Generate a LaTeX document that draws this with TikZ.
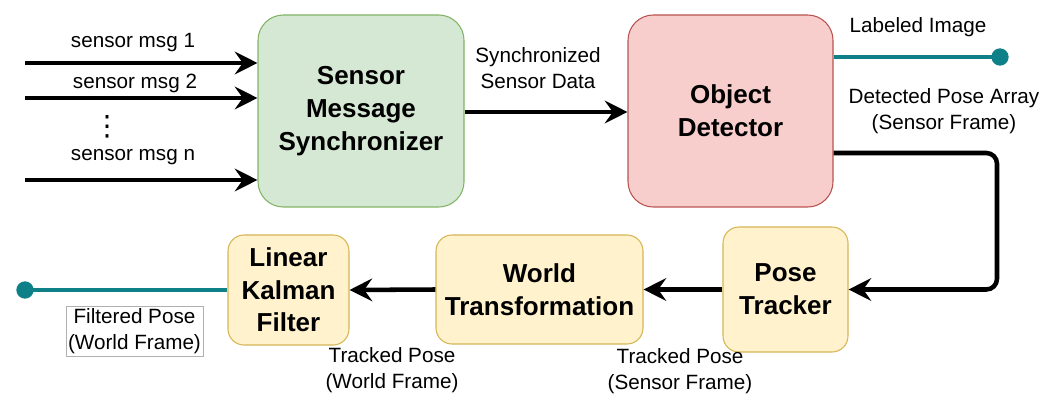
\documentclass[tikz,border=0pt]{standalone}
\usepackage{fontspec}
\setmainfont{Liberation Sans}
\newfontfamily\symbolfont{DejaVu Sans}
\usetikzlibrary{arrows.meta,positioning}

\definecolor{greenfill}{HTML}{D5E8D4}
\definecolor{greenline}{HTML}{82B366}
\definecolor{redfill}{HTML}{F8CECC}
\definecolor{redline}{HTML}{B85450}
\definecolor{yellowfill}{HTML}{FFF2CC}
\definecolor{yellowline}{HTML}{D6B656}
\definecolor{tealline}{HTML}{0E8088}
\definecolor{labelframe}{HTML}{B0B0B0}

\tikzset{
  block/.style={rounded corners=#1, inner sep=0pt, align=center,
    font=\fontsize{19.5}{24.5}\selectfont\bfseries, line width=0.8pt},
  greenbox/.style={block=19pt, fill=greenfill, draw=greenline},
  redbox/.style={block=19pt, fill=redfill, draw=redline},
  yellowbox/.style={block=12pt, fill=yellowfill, draw=yellowline},
  lbl/.style={align=center, inner sep=0pt, font=\fontsize{15.5}{20}\selectfont},
  flow/.style={line width=3.4pt, -{Stealth[length=17pt, width=17pt, inset=6pt]}},
  tealwire/.style={line width=3pt, draw=tealline},
  enddot/.style={circle, fill=tealline, inner sep=0pt, minimum size=13pt}
}

\begin{document}
\begin{tikzpicture}[x=0.75pt, y=-0.75pt]
\useasboundingbox (0,0) rectangle (1059,395);

% processing blocks
\node[greenbox, minimum width=154.5pt, minimum height=144pt] (sync) at (361,111)
  {Sensor\\Message\\Synchronizer};
\node[redbox, minimum width=153.75pt, minimum height=144pt] (det) at (730.5,111)
  {Object\\Detector};
\node[yellowbox, minimum width=93.75pt, minimum height=93.75pt] (track) at (785.5,289.5)
  {Pose\\Tracker};
\node[yellowbox, minimum width=155.25pt, minimum height=81.75pt] (world) at (539.5,289.5)
  {World\\Transformation};
\node[yellowbox, minimum width=90.75pt, minimum height=82.5pt] (kalman) at (288.5,290)
  {Linear\\Kalman\\Filter};

% sensor inputs
\coordinate (in1) at (25,63);
\coordinate (in2) at (25,98);
\coordinate (inn) at (25,180);
\draw[flow] (in1) -- (in1 -| sync.west);
\draw[flow] (in2) -- (in2 -| sync.west);
\draw[flow] (inn) -- (inn -| sync.west);
\node[lbl] (l1) at (133,43) {sensor msg 1};
\node[lbl] (l2) at (135,83) {sensor msg 2};
\node[lbl, font=\symbolfont\fontsize{21}{21}\selectfont] (ldots) at (107,127) {⋮};
\node[lbl] (ln) at (133,157) {sensor msg n};

% synchronizer to detector
\draw[flow] (sync.east |- 0,112) -- (det.west |- 0,112);
\node[lbl] (lsync) at (538,68) {Synchronized\\Sensor Data};

% labeled image output
\coordinate (imgout) at (1000,57);
\draw[tealwire] (det.east |- imgout) -- (imgout);
\node[enddot] (imgdot) at (imgout) {};
\node[lbl] (limg) at (918,27) {Labeled Image};

% detections to tracker
\coordinate (bend) at (997,153);
\draw[flow, rounded corners=8pt] (det.east |- bend) -- (bend) |- (track.east);
\node[lbl] (ldet) at (944,111) {Detected Pose Array\\(Sensor Frame)};

% tracker to world transformation to filter
\draw[flow] (track.west) -- (world.east);
\node[lbl] (ltrack) at (680,371) {Tracked Pose\\(Sensor Frame)};
\draw[flow] (world.west) -- (kalman.east);
\node[lbl] (lworld) at (392,370) {Tracked Pose\\(World Frame)};

% filtered output
\coordinate (poseout) at (25,290);
\draw[tealwire] (kalman.west) -- (poseout);
\node[enddot] (posedot) at (poseout) {};
\node[lbl, draw=labelframe, line width=0.4pt, inner sep=1.5pt] (lfilt) at (134.5,331)
  {Filtered Pose\\(World Frame)};
\end{tikzpicture}
\end{document}
